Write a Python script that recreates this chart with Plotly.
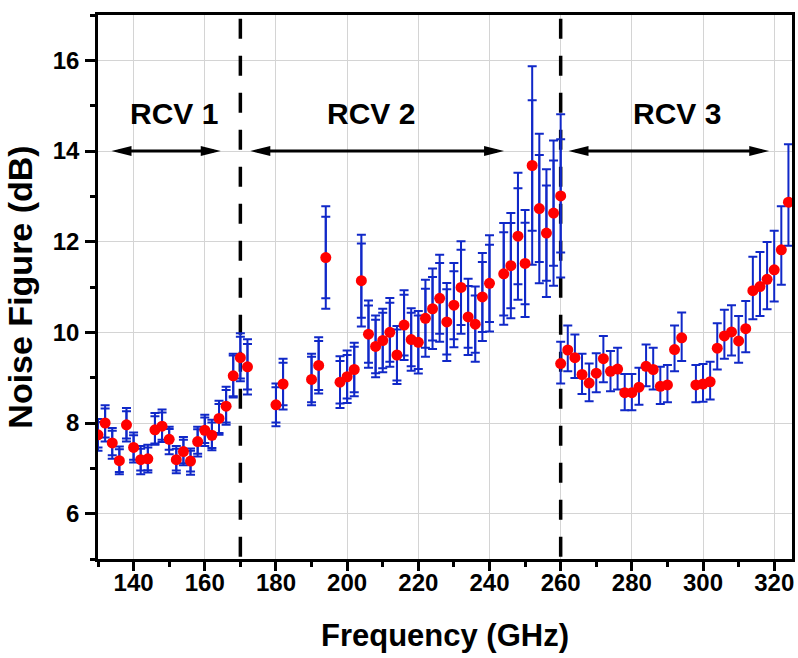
import plotly.graph_objects as go

# ---------------- data ----------------
freq_rcv1 = [130, 132, 134, 136, 138, 140, 142, 144, 146, 148, 150, 152, 154, 156, 158, 160, 162, 164, 166, 168, 170]
nf_rcv1 = [7.74, 8.00, 7.56, 7.17, 7.96, 7.46, 7.19, 7.21, 7.85, 7.93, 7.64, 7.19, 7.37, 7.16, 7.59, 7.84, 7.73, 8.10, 8.37, 9.04, 9.44]
err_up_rcv1 = [0.35, 0.39, 0.33, 0.31, 0.37, 0.33, 0.30, 0.31, 0.37, 0.37, 0.28, 0.30, 0.32, 0.28, 0.33, 0.34, 0.34, 0.39, 0.43, 0.49, 0.54]
err_dn_rcv1 = [0.35, 0.41, 0.35, 0.30, 0.37, 0.33, 0.32, 0.30, 0.33, 0.35, 0.33, 0.30, 0.30, 0.30, 0.33, 0.35, 0.33, 0.36, 0.41, 0.48, 0.52]
err_in_rcv1 = [0.28, 0.32, 0.27, 0.25, 0.30, 0.27, 0.24, 0.25, 0.30, 0.30, 0.23, 0.24, 0.26, 0.23, 0.27, 0.28, 0.28, 0.32, 0.36, 0.45, 0.46]

freq_rcv2 = [172, 180, 182, 190, 192, 194, 198, 200, 202, 204, 206, 208, 210, 212, 214, 216, 218, 220,
             222, 224, 226, 228, 230, 232, 234, 236, 238, 240, 244, 246, 248, 250, 252, 254, 256, 258, 260]
nf_rcv2 = [9.24, 8.40, 8.86, 8.96, 9.27, 11.65, 8.90, 9.02, 9.18, 11.14, 9.96, 9.69, 9.82, 10.00, 9.50, 10.16, 9.84, 9.78,
           10.31, 10.52, 10.75, 10.23, 10.60, 10.99, 10.34, 10.18, 10.78, 11.08, 11.29, 11.47, 12.12, 11.52, 13.68, 12.73, 12.19, 12.63, 13.01]
err_rcv2 = [0.61, 0.47, 0.56, 0.57, 0.62, 1.13, 0.57, 0.58, 0.59, 1.01, 0.74, 0.68, 0.70, 0.76, 0.64, 0.77, 0.69, 0.69,
            0.85, 0.89, 0.96, 0.86, 0.93, 1.02, 0.84, 0.83, 0.97, 1.06, 1.12, 1.16, 1.40, 1.18, 2.19, 1.65, 1.41, 1.60, 1.80]
err_in_rcv2 = [0.50, 0.39, 0.47, 0.50, 0.54, 0.90, 0.47, 0.48, 0.50, 0.82, 0.63, 0.59, 0.61, 0.65, 0.56, 0.67, 0.59, 0.59,
               0.65, 0.70, 0.78, 0.72, 0.75, 0.83, 0.68, 0.63, 0.77, 0.85, 0.92, 0.94, 1.06, 0.90, 1.44, 1.18, 1.05, 1.16, 1.25]

freq_rcv3 = [260, 262, 264, 266, 268, 270, 272, 274, 276, 278, 280, 282, 284, 286, 288, 290, 292, 294,
             298, 300, 302, 304, 306, 308, 310, 312, 314, 316, 318, 320, 322, 324]
nf_rcv3 = [9.31, 9.61, 9.44, 9.07, 8.88, 9.10, 9.42, 9.14, 9.19, 8.67, 8.67, 8.79, 9.25, 9.18, 8.81, 8.84, 9.62, 9.88,
           8.84, 8.86, 8.91, 9.65, 9.92, 10.01, 9.81, 10.08, 10.92, 11.01, 11.17, 11.38, 11.82, 12.87]
err_up_rcv3 = [0.48, 0.54, 0.51, 0.46, 0.43, 0.44, 0.50, 0.45, 0.47, 0.41, 0.41, 0.43, 0.48, 0.48, 0.43, 0.44, 0.53, 0.56,
               0.44, 0.44, 0.44, 0.55, 0.58, 0.59, 0.55, 0.61, 0.75, 0.76, 0.82, 0.86, 0.96, 1.28]
err_dn_rcv3 = [0.44, 0.47, 0.45, 0.43, 0.40, 0.42, 0.52, 0.44, 0.45, 0.39, 0.39, 0.39, 0.44, 0.44, 0.39, 0.38, 0.48, 0.51,
               0.38, 0.39, 0.39, 0.47, 0.50, 0.52, 0.48, 0.52, 0.63, 0.65, 0.66, 0.70, 0.77, 0.96]

band_edges = [170, 260]
rcv_names = ["RCV 1", "RCV 2", "RCV 3"]
rcv_label_x = [151.3, 206.8, 292.8]
rcv_label_y = 14.83
arrow_start = [133.8, 172.8, 262.2]
arrow_end = [164.5, 244.1, 318.6]
arrow_y = 14.0

x_tick_vals = [140, 160, 180, 200, 220, 240, 260, 280, 300, 320]
y_tick_vals = [6, 8, 10, 12, 14, 16]

# ---------------- styles ----------------
BLUE = "#1028c8"
RED = "#ff0000"
FONT = "Liberation Sans, Arial, sans-serif"

fig = go.Figure()

def err_trace(x, y, up, dn=None):
    return go.Scatter(
        x=x, y=y, mode="markers",
        marker=dict(size=10, color="rgba(0,0,0,0)"),
        error_y=dict(type="data", array=up, arrayminus=dn if dn is not None else up,
                     symmetric=False, color=BLUE, thickness=2, width=4.5),
        hoverinfo="skip", showlegend=False)

# inner caps
fig.add_trace(err_trace(freq_rcv1, nf_rcv1, err_in_rcv1))
fig.add_trace(err_trace(freq_rcv2, nf_rcv2, err_in_rcv2))

# outer bars with markers
for fx, fy, up, dn in [(freq_rcv1, nf_rcv1, err_up_rcv1, err_dn_rcv1),
                       (freq_rcv2, nf_rcv2, err_rcv2, err_rcv2),
                       (freq_rcv3, nf_rcv3, err_up_rcv3, err_dn_rcv3)]:
    fig.add_trace(go.Scatter(
        x=fx, y=fy, mode="markers",
        marker=dict(size=11, color=RED, line=dict(width=0)),
        error_y=dict(type="data", array=up, arrayminus=dn, symmetric=False,
                     color=BLUE, thickness=2, width=4.5),
        showlegend=False))

shapes = []
for xb in band_edges:
    shapes.append(dict(type="line", xref="x", yref="y", x0=xb, x1=xb, y0=16.92, y1=5,
                       line=dict(color="black", width=3.5, dash="20px,17px"), layer="between"))

for xs, xe in zip(arrow_start, arrow_end):
    shapes.append(dict(type="line", xref="x", yref="y", x0=xs + 2, x1=xe - 2, y0=arrow_y, y1=arrow_y,
                       line=dict(color="black", width=3), layer="above"))
    shapes.append(dict(type="path", xref="x", yref="y", xsizemode="pixel", ysizemode="pixel",
                       xanchor=xs, yanchor=arrow_y, path="M 0 0 L 20 5 L 20 -5 Z",
                       fillcolor="black", line=dict(width=0), layer="above"))
    shapes.append(dict(type="path", xref="x", yref="y", xsizemode="pixel", ysizemode="pixel",
                       xanchor=xe, yanchor=arrow_y, path="M 0 0 L -20 5 L -20 -5 Z",
                       fillcolor="black", line=dict(width=0), layer="above"))

annotations = []
for name, lx in zip(rcv_names, rcv_label_x):
    annotations.append(dict(x=lx, y=rcv_label_y, xref="x", yref="y", text=name, showarrow=False,
                            xanchor="center", yanchor="middle",
                            font=dict(family=FONT, size=30, color="black", weight="bold")))

fig.update_layout(
    width=798, height=658,
    margin=dict(l=98, r=6, t=15, b=99, autoexpand=False),
    paper_bgcolor="white", plot_bgcolor="white",
    shapes=shapes, annotations=annotations,
    font=dict(family=FONT, color="black"),
)

fig.update_xaxes(
    range=[130, 325], tickvals=x_tick_vals, automargin=False,
    showgrid=True, gridcolor="#d4d4d4", gridwidth=1,
    showline=True, linecolor="black", linewidth=2.5, mirror=True,
    ticks="outside", ticklen=9, tickwidth=2.5, tickcolor="black",
    minor=dict(dtick=10, tick0=130, ticks="outside", ticklen=5, tickwidth=2.5, tickcolor="black", showgrid=False),
    tickfont=dict(family=FONT, size=24, color="black", weight="bold"),
    ticklabelstandoff=-9, ticklabeloverflow="allow",
    title=dict(text="Frequency (GHz)", font=dict(family=FONT, size=31, color="black", weight="bold"), standoff=30),
    zeroline=False,
)
fig.update_yaxes(
    range=[5, 17], tickvals=y_tick_vals, automargin=False,
    showgrid=True, gridcolor="#d4d4d4", gridwidth=1,
    showline=True, linecolor="black", linewidth=2.5, mirror=True,
    ticks="outside", ticklen=10, tickwidth=2.5, tickcolor="black",
    minor=dict(dtick=1, tick0=5, ticks="outside", ticklen=5, tickwidth=2.5, tickcolor="black", showgrid=False),
    tickfont=dict(family=FONT, size=24, color="black", weight="bold"),
    ticklabelstandoff=1,
    title=dict(text="Noise Figure (dB)", font=dict(family=FONT, size=34, color="black", weight="bold"), standoff=10),
    zeroline=False,
)

fig.write_html(
    "out.html",
    config={"displayModeBar": False},
    post_script="document.body.style.margin='0';document.body.style.overflow='hidden';",
)
